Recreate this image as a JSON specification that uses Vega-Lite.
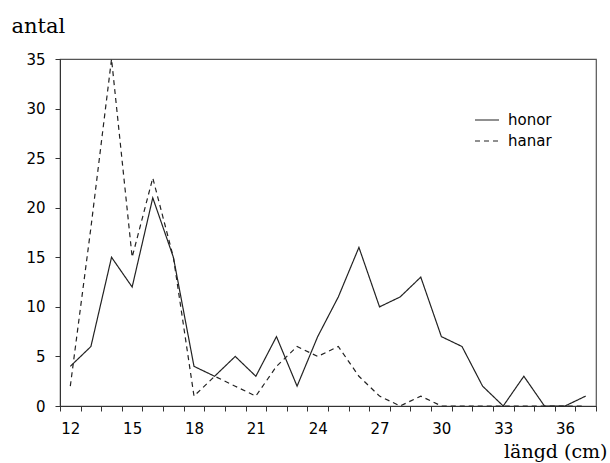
{
  "$schema": "https://vega.github.io/schema/vega-lite/v6.json",
  "width": 536,
  "height": 347,
  "autosize": {"type": "none"},
  "padding": {"left": 60, "top": 59, "right": 14, "bottom": 57},
  "background": "white",
  "config": {
    "view": {"stroke": "#555", "strokeWidth": 1.2},
    "axis": {"labelFont": "DejaVu Sans", "labelFontSize": 15, "labelColor": "#000", "domainColor": "#333", "tickColor": "#333", "grid": false, "tickSize": 5, "zindex": 1}
  },
  "data": {"values": [
    {"len": 12, "n": 4, "sex": "honor"}, {"len": 13, "n": 6, "sex": "honor"}, {"len": 14, "n": 15, "sex": "honor"}, {"len": 15, "n": 12, "sex": "honor"}, {"len": 16, "n": 21, "sex": "honor"}, {"len": 17, "n": 15, "sex": "honor"}, {"len": 18, "n": 4, "sex": "honor"}, {"len": 19, "n": 3, "sex": "honor"}, {"len": 20, "n": 5, "sex": "honor"}, {"len": 21, "n": 3, "sex": "honor"}, {"len": 22, "n": 7, "sex": "honor"}, {"len": 23, "n": 2, "sex": "honor"}, {"len": 24, "n": 7, "sex": "honor"}, {"len": 25, "n": 11, "sex": "honor"}, {"len": 26, "n": 16, "sex": "honor"}, {"len": 27, "n": 10, "sex": "honor"}, {"len": 28, "n": 11, "sex": "honor"}, {"len": 29, "n": 13, "sex": "honor"}, {"len": 30, "n": 7, "sex": "honor"}, {"len": 31, "n": 6, "sex": "honor"}, {"len": 32, "n": 2, "sex": "honor"}, {"len": 33, "n": 0, "sex": "honor"}, {"len": 34, "n": 3, "sex": "honor"}, {"len": 35, "n": 0, "sex": "honor"}, {"len": 36, "n": 0, "sex": "honor"}, {"len": 37, "n": 1, "sex": "honor"},
    {"len": 12, "n": 2, "sex": "hanar"}, {"len": 13, "n": 18, "sex": "hanar"}, {"len": 14, "n": 35, "sex": "hanar"}, {"len": 15, "n": 15, "sex": "hanar"}, {"len": 16, "n": 23, "sex": "hanar"}, {"len": 17, "n": 15, "sex": "hanar"}, {"len": 18, "n": 1, "sex": "hanar"}, {"len": 19, "n": 3, "sex": "hanar"}, {"len": 20, "n": 2, "sex": "hanar"}, {"len": 21, "n": 1, "sex": "hanar"}, {"len": 22, "n": 4, "sex": "hanar"}, {"len": 23, "n": 6, "sex": "hanar"}, {"len": 24, "n": 5, "sex": "hanar"}, {"len": 25, "n": 6, "sex": "hanar"}, {"len": 26, "n": 3, "sex": "hanar"}, {"len": 27, "n": 1, "sex": "hanar"}, {"len": 28, "n": 0, "sex": "hanar"}, {"len": 29, "n": 1, "sex": "hanar"}, {"len": 30, "n": 0, "sex": "hanar"}, {"len": 31, "n": 0, "sex": "hanar"}, {"len": 32, "n": 0, "sex": "hanar"}, {"len": 33, "n": 0, "sex": "hanar"}, {"len": 34, "n": 0, "sex": "hanar"}, {"len": 35, "n": 0, "sex": "hanar"}, {"len": 36, "n": 0, "sex": "hanar"}, {"len": 37, "n": 0, "sex": "hanar"}
  ]},
  "mark": {"type": "line", "color": "#222", "strokeWidth": 1.2},
  "encoding": {
    "x": {
      "field": "len", "type": "quantitative",
      "scale": {"domain": [11.5, 37.5], "nice": false, "zero": false},
      "axis": {
        "values": [11.5, 12.5, 13.5, 14.5, 15.5, 16.5, 17.5, 18.5, 19.5, 20.5, 21.5, 22.5, 23.5, 24.5, 25.5, 26.5, 27.5, 28.5, 29.5, 30.5, 31.5, 32.5, 33.5, 34.5, 35.5, 36.5, 37.5],
        "labelExpr": "(datum.value - 11.5) % 3 == 0 && datum.value < 37 ? '' + (datum.value + 0.5) : ''",
        "labelOffset": 10.3,
        "labelOverlap": false,
        "labelFlush": false,
        "labelPadding": 10,
        "title": "längd (cm)",
        "titleFont": "DejaVu Serif",
        "titleFontSize": 19,
        "titleFontWeight": "normal",
        "titleColor": "#000",
        "titleAnchor": null,
        "titleAlign": "right",
        "titleBaseline": "alphabetic",
        "titleX": 547,
        "titleY": 51
      }
    },
    "y": {
      "field": "n", "type": "quantitative",
      "scale": {"domain": [0, 35], "nice": false},
      "axis": {
        "values": [0, 5, 10, 15, 20, 25, 30, 35],
        "labelPadding": 10,
        "title": "antal",
        "titleAngle": 0,
        "titleFont": "DejaVu Serif",
        "titleFontSize": 21,
        "titleFontWeight": "normal",
        "titleColor": "#000",
        "titleAnchor": null,
        "titleAlign": "left",
        "titleBaseline": "alphabetic",
        "titleX": -49,
        "titleY": -27
      }
    },
    "strokeDash": {
      "field": "sex", "type": "nominal",
      "scale": {"domain": ["honor", "hanar"], "range": [[1, 0], [5, 4]]},
      "legend": {
        "title": null,
        "orient": "none",
        "legendX": 414,
        "legendY": 48,
        "symbolType": "stroke",
        "symbolSize": 576,
        "symbolStrokeColor": "#222",
        "symbolStrokeWidth": 1.2,
        "labelFont": "DejaVu Sans",
        "labelFontSize": 15,
        "labelColor": "#000",
        "labelOffset": 8,
        "rowPadding": -8
      }
    }
  }
}
